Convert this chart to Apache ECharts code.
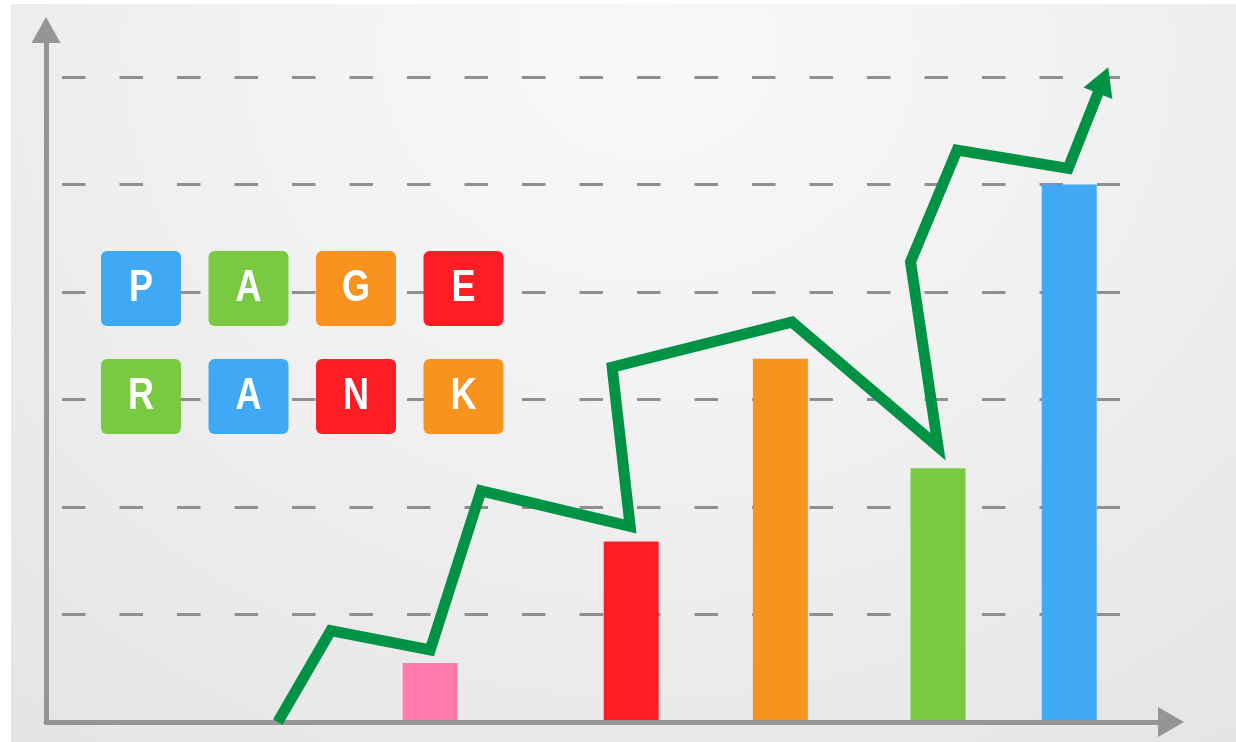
<!DOCTYPE html>
<html>
<head>
<meta charset="utf-8">
<script src="https://cdn.jsdelivr.net/npm/echarts@6.0.0/dist/echarts.min.js"></script>
<style>
html,body{margin:0;padding:0;background:#ffffff;width:1236px;height:742px;overflow:hidden}
#bg{position:absolute;left:11px;top:4px;width:1225px;height:738px;
  background:radial-gradient(ellipse 80% 115% at 52% 6%, #f9f9f9 0%, #f1f1f1 45%, #e5e5e5 100%);}
#chart{position:absolute;left:0;top:0;width:1236px;height:742px}
</style>
</head>
<body>
<div id="bg"></div>
<div id="chart"></div>
<script>
// ---- data ----
const barPositions = [34.8, 53.8, 67.9, 82.8, 95.2];
const barValues    = [0.55, 1.68, 3.38, 2.36, 5.0];
const lineX = [20.4, 25.4, 34.8, 39.6, 53.7, 52.0, 69.0, 82.8, 80.2, 84.6, 95.1, 98.4];
const lineY = [0.0, 0.85, 0.67, 2.15, 1.82, 3.30, 3.72, 2.56, 4.28, 5.32, 5.15, 5.97];
const yMin = 0, yMax = 6, yStep = 1;
const xMin = 0, xMax = 100;
const tileRow1 = ['P', 'A', 'G', 'E'];
const tileRow2 = ['R', 'A', 'N', 'K'];

// ---- styles ----
const barColors = ['#ff7bac', '#ff1d25', '#f7931e', '#7ac943', '#3fa9f5'];
const tileColors1 = ['#3fa9f5', '#7ac943', '#f7931e', '#ff1d25'];
const tileColors2 = ['#7ac943', '#3fa9f5', '#ff1d25', '#f7931e'];
const lineColor = '#009245';
const axisColor = '#959595';

const chart = echarts.init(document.getElementById('chart'), null, {renderer: 'canvas'});

const barData = barPositions.map((x, i) => ({
  value: [x, barValues[i]],
  itemStyle: {color: barColors[i]}
}));
const lineData = lineX.map((x, i) => {
  if (i === lineX.length - 1) {
    return {value: [x, lineY[i]], symbol: 'triangle', symbolSize: [31, 28], symbolRotate: -21.5,
      itemStyle: {color: lineColor}};
  }
  return {value: [x, lineY[i]], symbol: 'none'};
});

const tileGraphics = [];
function addRow(letters, colors, top) {
  letters.forEach((ch, i) => {
    const left = 101 + i * 107.5;
    tileGraphics.push({
      type: 'rect', z: 100,
      shape: {x: left, y: top, width: 80, height: 75, r: 6},
      style: {fill: colors[i]}
    });
    tileGraphics.push({
      type: 'text', z: 101,
      x: left + 40, y: top + 38, scaleX: 0.8, scaleY: 1,
      style: {
        text: ch, x: 0, y: 0, textAlign: 'center', textVerticalAlign: 'middle',
        fill: '#ffffff', fontSize: 45, fontWeight: 'bold',
        fontFamily: '"Liberation Sans", "DejaVu Sans", sans-serif'
      }
    });
  });
}
addRow(tileRow1, tileColors1, 251);
addRow(tileRow2, tileColors2, 359);

chart.setOption({
  animation: false,
  backgroundColor: 'transparent',
  grid: [
    {left: 62, right: 116, top: 77, bottom: 20},
    {left: 46, right: 65, top: 30, bottom: 20}
  ],
  xAxis: [
    {gridIndex: 0, type: 'value', min: xMin, max: xMax, show: false},
    {gridIndex: 1, type: 'value', min: 0, max: 1, z: 5,
      axisLine: {show: true, symbol: ['none', 'triangle'], symbolSize: [30, 26],
        lineStyle: {color: axisColor, width: 5}},
      axisTick: {show: false}, axisLabel: {show: false}, splitLine: {show: false}}
  ],
  yAxis: [
    {gridIndex: 0, type: 'value', min: yMin, max: yMax, interval: yStep,
      axisLine: {show: false}, axisTick: {show: false}, axisLabel: {show: false},
      splitLine: {show: true, lineStyle: {color: '#8f8f8f', width: 3, type: [23.5, 34]}}},
    {gridIndex: 1, type: 'value', min: 0, max: 1, z: 5,
      axisLine: {show: true, symbol: ['none', 'triangle'], symbolSize: [29, 26],
        lineStyle: {color: axisColor, width: 5}},
      axisTick: {show: false}, axisLabel: {show: false}, splitLine: {show: false}}
  ],
  series: [
    {type: 'bar', xAxisIndex: 0, yAxisIndex: 0, barWidth: 55, data: barData, z: 2},
    {type: 'line', xAxisIndex: 0, yAxisIndex: 0, data: lineData, z: 6, clip: false,
      symbol: 'none', showSymbol: true,
      lineStyle: {color: lineColor, width: 11, join: 'miter', cap: 'butt', miterLimit: 10},
      itemStyle: {color: lineColor}}
  ],
  graphic: tileGraphics
});
</script>
</body>
</html>
